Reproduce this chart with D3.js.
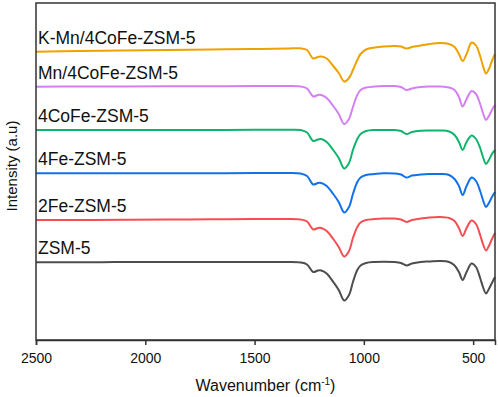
<!DOCTYPE html>
<html>
<head>
<meta charset="utf-8">
<script src="https://cdn.jsdelivr.net/npm/d3@7"></script>
<style>
  html, body { margin: 0; padding: 0; background: #fff; }
  svg { display: block; font-family: "Liberation Sans", Arial, sans-serif; }
</style>
</head>
<body>
<svg id="chart" width="498" height="397"></svg>
<script>
// ---- data ----
const wavenumbers = [2500, 2300, 2100, 1900, 1700, 1500, 1350, 1290, 1260, 1232,
  1210, 1195, 1170, 1140, 1115, 1090, 1068, 1050, 1030, 1015,
  990, 950, 910, 860, 830, 805, 780, 740, 700, 650,
  610, 585, 565, 548, 530, 507, 487, 468, 455, 441,
  428, 414, 400];

const seriesNames = ["K-Mn/4CoFe-ZSM-5", "Mn/4CoFe-ZSM-5", "4CoFe-ZSM-5", "4Fe-ZSM-5", "2Fe-ZSM-5", "ZSM-5"];
const seriesColors = ["#eea200", "#d47ff0", "#10b46c", "#0f72ea", "#f44e52", "#4d4d4d"];

const kMn4CoFe = [288.3, 289, 289.5, 290, 290.5, 291, 291.5, 291.7, 290, 281.5,
  283, 283.5, 281.5, 274, 267, 258.5, 262, 270, 280, 286,
  290.5, 292.5, 293.5, 294, 293.5, 291.5, 293, 294.5, 296, 297,
  296, 293, 286, 279, 286, 297.5, 294.5, 284, 274, 266.5,
  271, 279, 286];
const mn4CoFe = [253.3, 253.5, 253.5, 253.7, 253.8, 254, 254, 253.5, 251.5, 243.5,
  245, 245, 242, 234, 226, 216, 221, 233, 245, 250,
  252.5, 253.5, 254, 254, 253, 250, 251.5, 253, 253.5, 253.5,
  252.5, 250, 243, 233.5, 241, 249, 246, 236, 227, 220,
  224, 230, 235];
const coFe4 = [210, 210, 210, 210, 210, 210.3, 210.3, 210, 207.5, 199,
  200.5, 201, 198, 190, 182, 171.5, 177, 190, 201, 206,
  209, 210, 210, 210, 209, 206, 208, 209.3, 209.5, 209.5,
  208.5, 205, 198, 190, 198, 204.5, 201, 192, 183, 176,
  180, 186, 190];
const fe4 = [166.7, 166.7, 166.7, 166.7, 166.8, 167, 167, 166.5, 164, 155.5,
  157, 157, 154, 146, 138, 127.5, 133, 146, 158, 162.5,
  165, 166, 166.7, 166.5, 165.5, 162.5, 164.5, 165.5, 166, 166,
  165, 161, 154, 145, 154, 162.5, 159, 149, 140, 133,
  137, 143, 148];
const fe2 = [120, 120, 120.3, 120.5, 120.7, 121, 121, 120.5, 118.5, 110.5,
  112, 112, 109, 101, 93, 83.5, 89, 102, 113, 117.5,
  120, 121, 121.5, 121.5, 120.5, 118, 120, 121.5, 122.5, 123,
  122, 119, 112, 104, 112, 119.5, 116, 105, 96, 89.5,
  94, 101, 107];
const zsm5 = [77.7, 77.7, 78, 78, 78, 78, 78, 77.5, 75.5, 68,
  69.5, 69.5, 66.5, 58, 50, 39.5, 45, 58, 70, 74.5,
  77, 78, 78.3, 78, 77, 74.5, 76.5, 78, 78.5, 79,
  78, 74.5, 68, 60, 68, 76.5, 73, 62, 53, 46.5,
  51, 57, 63];
const seriesValues = [kMn4CoFe, mn4CoFe, coFe4, fe4, fe2, zsm5];

const xTicks = [2500, 2000, 1500, 1000, 500];
const xDomain = [2500, 400];
const yDomain = [0, 337];

// ---- layout ----
const svg = d3.select("#chart");
const margin = { left: 36, right: 3, top: 3, bottom: 57 };
const W = 498, H = 397;
const x0 = margin.left, x1 = W - margin.right;
const y0 = H - margin.bottom, y1 = margin.top;

const x = d3.scaleLinear().domain(xDomain).range([x0, x1]);
const y = d3.scaleLinear().domain(yDomain).range([y0, y1]);

const line = d3.line()
  .x((d, i) => x(wavenumbers[i]))
  .y(d => y(d))
  .curve(d3.curveCatmullRom.alpha(0.5));

const plot = svg.append("g");
seriesValues.forEach((vals, k) => {
  plot.append("path")
    .attr("d", line(vals))
    .attr("fill", "none")
    .attr("stroke", seriesColors[k])
    .attr("stroke-width", 2)
    .attr("stroke-linejoin", "round");
  svg.append("text")
    .attr("x", x0 + 2)
    .attr("y", y(vals[0]) - 8)
    .attr("font-size", "17.5px")
    .attr("fill", "#111")
    .text(seriesNames[k]);
});

// frame
svg.append("rect")
  .attr("x", x0).attr("y", y1)
  .attr("width", x1 - x0).attr("height", y0 - y1)
  .attr("fill", "none").attr("stroke", "#333").attr("stroke-width", 1.5);

// bottom axis
const xAxis = d3.axisBottom(x).tickValues(xTicks).tickSize(5).tickPadding(8).tickFormat(d3.format("d"));
const gx = svg.append("g").attr("transform", `translate(0,${y0})`).call(xAxis);
gx.select(".domain").attr("stroke", "#333").attr("stroke-width", 1.5);
gx.selectAll(".tick line").attr("stroke", "#333").attr("stroke-width", 1.5);
gx.selectAll(".tick text").attr("font-size", "14px").attr("fill", "#111")
  .attr("font-family", "'Liberation Sans', Arial, sans-serif");

// axis titles
const xt = svg.append("text")
  .attr("x", (x0 + x1) / 2).attr("y", 391)
  .attr("text-anchor", "middle").attr("font-size", "16px").attr("fill", "#111");
xt.append("tspan").text("Wavenumber (cm");
xt.append("tspan").attr("font-size", "10px").attr("dy", "-6").text("-1");
xt.append("tspan").attr("dy", "6").text(")");

svg.append("text")
  .attr("transform", `translate(17,166) rotate(-90)`)
  .attr("text-anchor", "middle").attr("font-size", "15px").attr("fill", "#111")
  .text("Intensity (a.u)");
</script>
</body>
</html>
